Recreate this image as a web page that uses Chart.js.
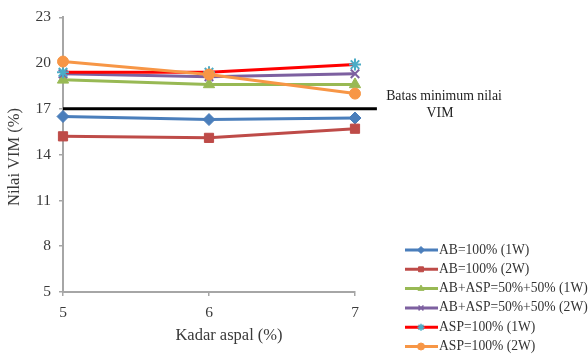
<!DOCTYPE html>
<html>
<head>
<meta charset="utf-8">
<script src="https://cdn.jsdelivr.net/npm/chart.js@4/dist/chart.umd.min.js"></script>
<style>html,body{margin:0;padding:0;background:#fff;}canvas{display:block;}</style>
</head>
<body>
<canvas id="c" width="588" height="358"></canvas>
<script>
const kadarAspal = [5, 6, 7];
const ab1W = [16.5, 16.3, 16.4];
const ab2W = [15.2, 15.1, 15.7];
const abAsp1W = [18.9, 18.6, 18.6];
const abAsp2W = [19.3, 19.1, 19.3];
const asp1W = [19.4, 19.4, 19.9];
const asp2W = [20.1, 19.25, 18.0];
const batasX = [5, 7.15];
const batasY = [17, 17];
const yTicks = [5, 8, 11, 14, 17, 20, 23];
const seriesNames = ['AB=100% (1W)', 'AB=100% (2W)', 'AB+ASP=50%+50% (1W)', 'AB+ASP=50%+50% (2W)', 'ASP=100% (1W)', 'ASP=100% (2W)'];
const batasLabel = ['Batas minimum nilai', 'VIM'];
const xTitle = 'Kadar aspal (%)';
const yTitle = 'Nilai VIM (%)';

const pts = (xs, ys) => xs.map((x, i) => ({x: x, y: ys[i]}));
const SERIF = '"Liberation Serif", "Times New Roman", serif';

const styles = [
  {line: '#4a7ebb', fill: '#4a7ebb', ps: 'rectRot', r: 6},
  {line: '#be4b48', fill: '#be4b48', ps: 'rect', r: 6.5},
  {line: '#98b954', fill: '#98b954', ps: 'triangle', r: 6.5},
  {line: '#7d60a0', fill: '#7d60a0', ps: 'crossRot', r: 6},
  {line: '#ff0000', fill: '#4bacc6', ps: 'star', r: 6},
  {line: '#f79646', fill: '#f79646', ps: 'circle', r: 5.5}
];
const values = [ab1W, ab2W, abAsp1W, abAsp2W, asp1W, asp2W];

const datasets = [{
  label: 'batas',
  data: pts(batasX, batasY),
  borderColor: '#000',
  borderWidth: 3,
  pointRadius: 0,
  clip: false,
  order: 10
}];
values.forEach((v, i) => {
  const s = styles[i];
  datasets.push({
    label: seriesNames[i],
    data: pts(kadarAspal, v),
    borderColor: s.line,
    backgroundColor: s.fill,
    pointBorderColor: s.fill,
    pointBackgroundColor: s.fill,
    pointStyle: s.ps,
    pointRadius: s.r,
    pointBorderWidth: (s.ps === 'crossRot' || s.ps === 'star') ? 2 : 1,
    borderWidth: 3,
    clip: false,
    order: 6 - i
  });
});

const extras = {
  id: 'extras',
  afterDraw(chart) {
    const ctx = chart.ctx;
    ctx.save();
    ctx.fillStyle = '#3a3a3a';
    ctx.textAlign = 'center';
    ctx.textBaseline = 'middle';
    ctx.font = '16.5px ' + SERIF;
    // x title
    ctx.fillText(xTitle, 229, 336);
    // y title
    ctx.save();
    ctx.translate(15, 157);
    ctx.rotate(-Math.PI / 2);
    ctx.fillText(yTitle, 0, 0);
    ctx.restore();
    // annotation
    ctx.fillStyle = '#222';
    ctx.font = '13.8px ' + SERIF;
    ctx.fillText(batasLabel[0], 444, 96);
    ctx.fillText(batasLabel[1], 440, 113);
    // legend
    ctx.font = '13.6px ' + SERIF;
    ctx.textAlign = 'left';
    for (let i = 0; i < seriesNames.length; i++) {
      const y = 250 + i * 19.3;
      const s = styles[i];
      ctx.strokeStyle = s.line;
      ctx.lineWidth = 3;
      ctx.beginPath();
      ctx.moveTo(405, y);
      ctx.lineTo(438, y);
      ctx.stroke();
      if (Chart.helpers && Chart.helpers.drawPoint) {
        ctx.fillStyle = s.fill;
        ctx.strokeStyle = s.fill;
        ctx.lineWidth = (s.ps === 'crossRot' || s.ps === 'star') ? 1.5 : 1;
        Chart.helpers.drawPoint(ctx, {pointStyle: s.ps, radius: 3.5, rotation: 0, borderWidth: 1}, 421, y);
      }
      ctx.fillStyle = '#333';
      ctx.fillText(seriesNames[i], 439, y);
    }
    ctx.restore();
  }
};

new Chart(document.getElementById('c'), {
  type: 'line',
  data: {datasets: datasets},
  options: {
    responsive: false,
    animation: false,
    layout: {padding: {left: 0, top: 15, right: 233, bottom: 0}},
    plugins: {legend: {display: false}, tooltip: {enabled: false}},
    scales: {
      x: {
        type: 'linear',
        min: 5, max: 7,
        afterFit: s => { s.height = 66; },
        ticks: {stepSize: 1, color: '#3a3a3a', font: {family: SERIF, size: 15.5}, padding: 8},
        grid: {display: true, drawOnChartArea: false, tickLength: 4, color: '#a6a6a6', lineWidth: 1.5},
        border: {color: '#a6a6a6', width: 2}
      },
      y: {
        min: 5, max: 23,
        afterFit: s => { s.width = 63; },
        afterBuildTicks: s => { s.ticks = yTicks.map(v => ({value: v})); },
        ticks: {color: '#3a3a3a', font: {family: SERIF, size: 15.5}, padding: 8},
        grid: {display: true, drawOnChartArea: false, tickLength: 4, color: '#a6a6a6', lineWidth: 1.5},
        border: {color: '#a6a6a6', width: 2}
      }
    }
  },
  plugins: [extras]
});
</script>
</body>
</html>
